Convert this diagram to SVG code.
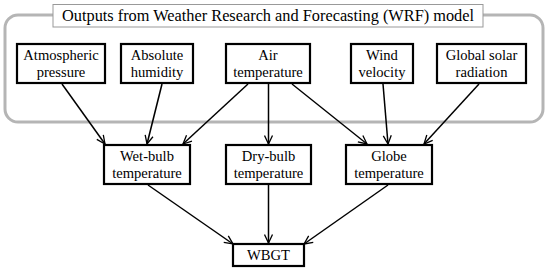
<svg xmlns="http://www.w3.org/2000/svg" width="550" height="271" viewBox="0 0 550 271">
<defs>
<marker id="ah" viewBox="0 0 10 10" refX="9.5" refY="5" markerWidth="10" markerHeight="10" markerUnits="userSpaceOnUse" orient="auto">
<path d="M1,1 L9.5,5 L1,9" fill="none" stroke="#000" stroke-width="1.3"/>
</marker>
</defs>
<style>
.box{fill:#fff;stroke:#000;stroke-width:2.2}
.t{font-family:"Liberation Serif","DejaVu Serif",serif;font-size:14.6px;fill:#000;text-anchor:middle}
.c{stroke:#000;stroke-width:1.5;fill:none;marker-end:url(#ah)}
</style>
<rect x="5" y="15" width="538" height="107" rx="13" fill="none" stroke="#b5b5b5" stroke-width="3"/>
<g id="title">
<rect x="53" y="4.5" width="430" height="22.5" fill="#fff" stroke="#999" stroke-width="1"/>
<text x="268" y="21" class="t" style="font-size:16px" textLength="412" lengthAdjust="spacingAndGlyphs">Outputs from Weather Research and Forecasting (WRF) model</text>
</g>
<g id="connectors">
<line class="c" x1="62" y1="84" x2="105" y2="144"/>
<line class="c" x1="162" y1="84" x2="147" y2="144"/>
<line class="c" x1="248" y1="84" x2="183" y2="144"/>
<line class="c" x1="268.5" y1="84" x2="268.5" y2="144"/>
<line class="c" x1="292" y1="84" x2="367" y2="144"/>
<line class="c" x1="383" y1="84" x2="388" y2="144"/>
<line class="c" x1="479" y1="84" x2="424" y2="144"/>
<line class="c" x1="148" y1="185" x2="233" y2="244"/>
<line class="c" x1="268.5" y1="185" x2="268.5" y2="243"/>
<line class="c" x1="388" y1="185" x2="304" y2="244"/>
</g>
<g id="atm">
<rect class="box" x="17" y="44" width="88" height="39"/>
<text class="t" x="61" y="60">Atmospheric</text>
<text class="t" x="61" y="77">pressure</text>
</g>
<g id="hum">
<rect class="box" x="121" y="44" width="72" height="39"/>
<text class="t" x="157" y="60">Absolute</text>
<text class="t" x="157" y="77">humidity</text>
</g>
<g id="air">
<rect class="box" x="226" y="44" width="84" height="39"/>
<text class="t" x="268" y="60">Air</text>
<text class="t" x="268" y="77">temperature</text>
</g>
<g id="wind">
<rect class="box" x="351" y="44" width="62" height="39"/>
<text class="t" x="382" y="60">Wind</text>
<text class="t" x="382" y="77">velocity</text>
</g>
<g id="solar">
<rect class="box" x="437" y="44" width="89" height="39"/>
<text class="t" x="481.5" y="60">Global solar</text>
<text class="t" x="481.5" y="77">radiation</text>
</g>
<g id="wet">
<rect class="box" x="104" y="145" width="86" height="39"/>
<text class="t" x="147" y="161">Wet-bulb</text>
<text class="t" x="147" y="178">temperature</text>
</g>
<g id="dry">
<rect class="box" x="226" y="145" width="85" height="39"/>
<text class="t" x="268.5" y="161">Dry-bulb</text>
<text class="t" x="268.5" y="178">temperature</text>
</g>
<g id="globe">
<rect class="box" x="346" y="145" width="86" height="39"/>
<text class="t" x="389" y="161">Globe</text>
<text class="t" x="389" y="178">temperature</text>
</g>
<g id="wbgt">
<rect class="box" x="233" y="244" width="71" height="22"/>
<text class="t" x="268.5" y="260">WBGT</text>
</g>
</svg>
